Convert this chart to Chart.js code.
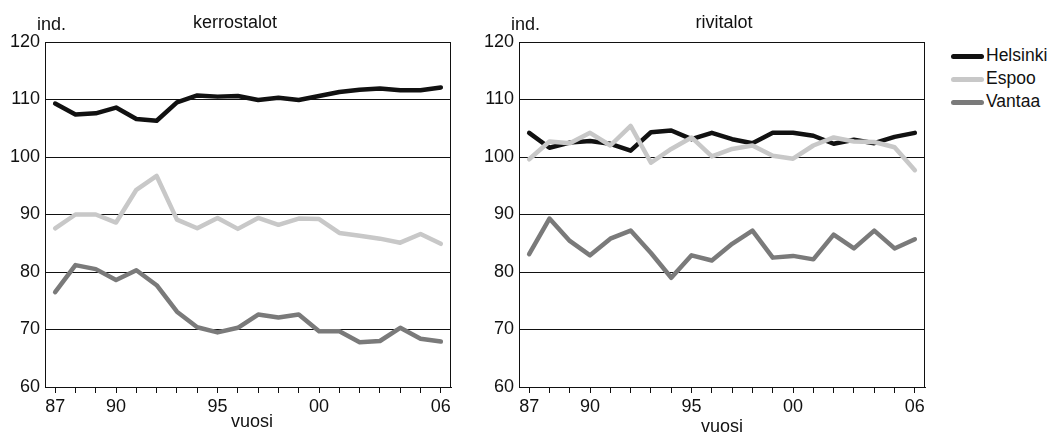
<!DOCTYPE html>
<html>
<head>
<meta charset="utf-8">
<script src="https://cdn.jsdelivr.net/npm/chart.js@4"></script>
<style>
  body { margin: 0; background: #fff; font-family: "Liberation Sans", Arial, sans-serif; }
  #wrap { position: relative; width: 1053px; height: 432px; overflow: hidden; }
  .box { position: absolute; top: 0; height: 432px; }
  #legend { position: absolute; left: 951px; top: 45px; font-size: 17.5px; color: #111; }
  #legend div { height: 23px; line-height: 21px; white-space: nowrap; }
  #legend span { display: inline-block; width: 33px; height: 5px; border-radius: 3px; vertical-align: middle; margin-right: 2px; }
</style>
</head>
<body>
<div id="wrap">
  <div class="box" style="left:0;width:470px"><canvas id="kerros"></canvas></div>
  <div class="box" style="left:474px;width:470px"><canvas id="rivi"></canvas></div>
  <div id="legend">
    <div><span style="background:#111"></span>Helsinki</div>
    <div><span style="background:#c8c8c8"></span>Espoo</div>
    <div><span style="background:#7a7a7a"></span>Vantaa</div>
  </div>
</div>
<script>
// vuodet 1987-2006
const years = ['87','88','89','90','91','92','93','94','95','96','97','98','99','00','01','02','03','04','05','06'];
const shownYears = ['87','90','95','00','06'];
const yTicks = [60, 70, 80, 90, 100, 110, 120];

// kerrostalot
const kerrosHelsinki = [109.3,107.4,107.6,108.6,106.6,106.3,109.5,110.7,110.5,110.6,109.9,110.3,109.9,110.6,111.3,111.7,111.9,111.6,111.6,112.1];
const kerrosEspoo    = [87.6,90.0,90.0,88.6,94.3,96.7,89.1,87.6,89.4,87.5,89.4,88.2,89.3,89.2,86.8,86.3,85.8,85.1,86.6,84.9];
const kerrosVantaa   = [76.5,81.2,80.5,78.6,80.3,77.7,73.1,70.4,69.5,70.3,72.6,72.1,72.6,69.7,69.7,67.8,68.0,70.3,68.4,67.9];

// rivitalot
const riviHelsinki = [104.2,101.6,102.5,102.8,102.3,101.1,104.3,104.6,103.1,104.2,103.1,102.4,104.2,104.2,103.7,102.3,103.0,102.4,103.5,104.2];
const riviEspoo    = [99.6,102.7,102.4,104.2,102.0,105.4,99.0,101.4,103.4,100.1,101.4,102.0,100.2,99.7,102.0,103.4,102.7,102.6,101.7,97.7];
const riviVantaa   = [83.1,89.3,85.4,82.9,85.8,87.2,83.3,79.0,82.9,82.0,84.9,87.2,82.5,82.8,82.2,86.5,84.1,87.2,84.1,85.7];

const FONT = '"Liberation Sans", Arial, sans-serif';

// kehys + tekstit (ind., otsikko, vuosi)
const frame = {
  id: 'frame',
  afterDraw(chart, args, opts) {
    const a = chart.chartArea, c = chart.ctx;
    c.save();
    c.strokeStyle = '#111';
    c.lineWidth = 1;
    c.strokeRect(a.left + 0.5, a.top + 0.5, a.right - a.left - 1, a.bottom - a.top);
    c.fillStyle = '#111';
    c.font = '18px ' + FONT;
    c.textAlign = 'left';
    c.textBaseline = 'alphabetic';
    c.fillText('ind.', a.left - 8, a.top - 12);
    c.textAlign = 'center';
    c.fillText(opts.title, opts.titleX, a.top - 14);
    c.fillText('vuosi', (a.left + a.right) / 2 + opts.vuosiDx, opts.vuosiY);
    c.restore();
  }
};

function makeChart(id, h, e, v, opts) {
  return new Chart(document.getElementById(id), {
    type: 'line',
    data: {
      labels: years,
      datasets: [
        { label: 'Espoo', data: e, borderColor: '#c8c8c8' },
        { label: 'Vantaa', data: v, borderColor: '#7a7a7a' },
        { label: 'Helsinki', data: h, borderColor: '#111' }
      ]
    },
    options: {
      responsive: true,
      maintainAspectRatio: false,
      animation: false,
      datasets: { line: { borderWidth: 4.5, pointRadius: 0, tension: 0, borderJoinStyle: 'round', borderCapStyle: 'round' } },
      layout: { padding: { top: 42, right: 19, left: 0, bottom: 0 } },
      plugins: {
        legend: { display: false },
        tooltip: { enabled: false },
        frame: opts
      },
      scales: {
        x: {
          type: 'category',
          offset: true,
          afterFit(s) { s.height = 45; },
          grid: { drawOnChartArea: false, drawTicks: true, tickLength: 6, color: '#111', offset: false },
          border: { color: '#111' },
          ticks: {
            autoSkip: false, maxRotation: 0, padding: 3,
            color: '#111', font: { family: FONT, size: 18 },
            callback(val) { const l = years[val]; return shownYears.includes(l) ? l : ''; }
          }
        },
        y: {
          min: 60, max: 120,
          afterFit(s) { s.width = 45; },
          afterBuildTicks(s) { s.ticks = yTicks.map(t => ({ value: t })); },
          grid: { color: '#111', lineWidth: 1, drawTicks: false },
          border: { color: '#111' },
          ticks: { padding: 5, color: '#111', font: { family: FONT, size: 18 } }
        }
      }
    },
    plugins: [frame]
  });
}

makeChart('kerros', kerrosHelsinki, kerrosEspoo, kerrosVantaa, { title: 'kerrostalot', titleX: 235, vuosiY: 427, vuosiDx: 4 });
makeChart('rivi', riviHelsinki, riviEspoo, riviVantaa, { title: 'rivitalot', titleX: 250, vuosiY: 432, vuosiDx: 0 });
</script>
</body>
</html>
